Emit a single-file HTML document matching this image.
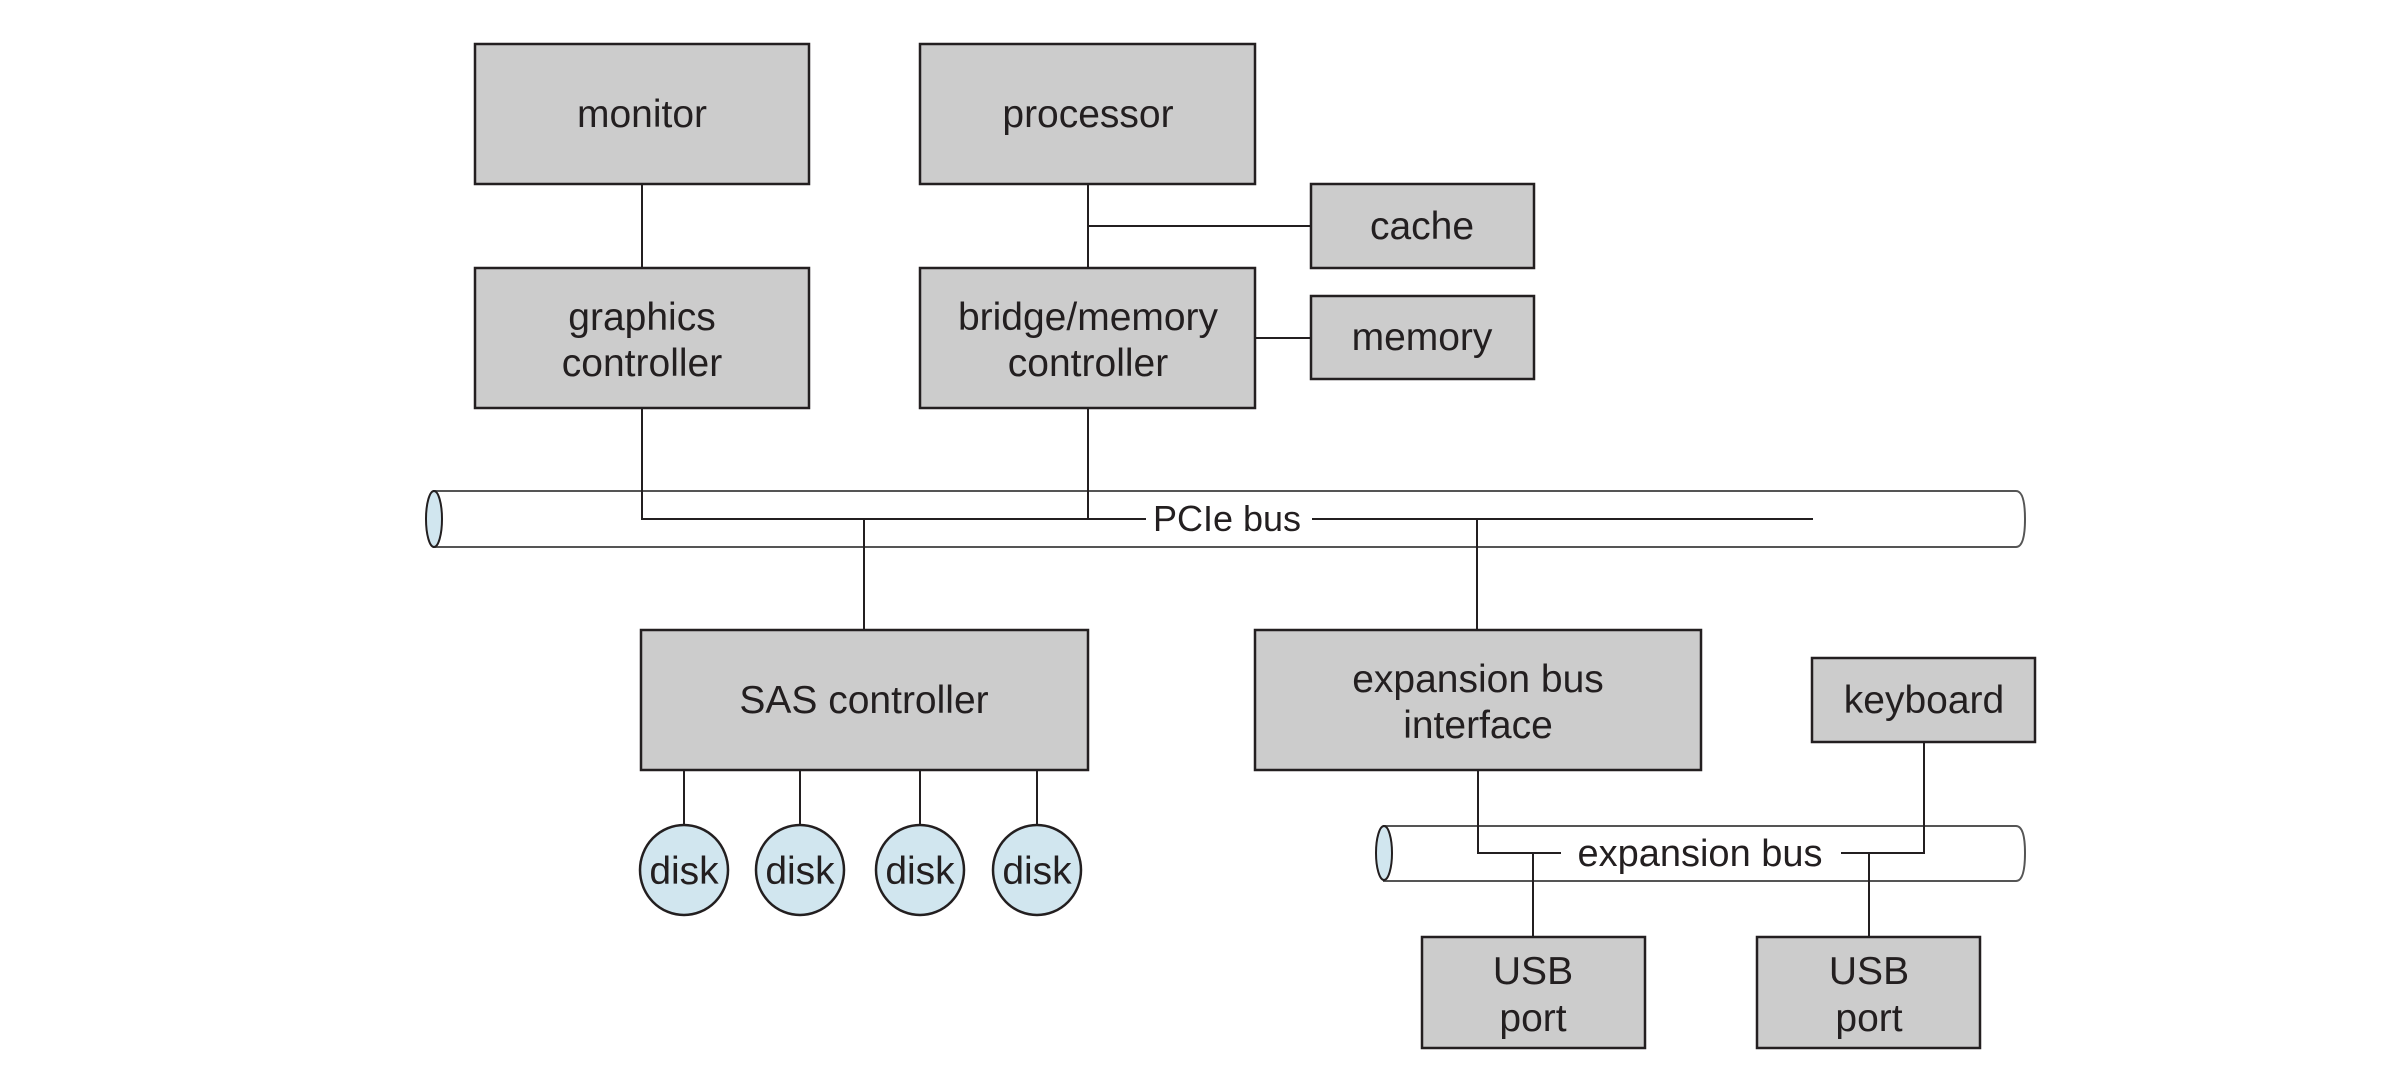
<!DOCTYPE html>
<html><head><meta charset="utf-8"><style>
html,body{margin:0;padding:0;background:#fff;}
svg{display:block;}
text{font-family:"Liberation Sans",sans-serif;font-size:39px;fill:#231f20;text-anchor:middle;}
.b{fill:#cccccc;stroke:#231f20;stroke-width:2.5;}
.l{stroke:#231f20;stroke-width:2;fill:none;}
.t{fill:#fff;stroke:#555;stroke-width:2;}
.d{fill:#d1e6ef;stroke:#231f20;stroke-width:2.5;}
</style></head><body>
<svg width="2388" height="1089" viewBox="0 0 2388 1089" xmlns="http://www.w3.org/2000/svg">
<path class="t" d="M434 491 H2016 Q2025 491 2025 519 Q2025 547 2016 547 H434 Z"/>
<ellipse class="d" cx="434" cy="519" rx="8" ry="28" style="stroke-width:2"/>
<path class="t" d="M1384 826 H2016 Q2025 826 2025 853 Q2025 881 2016 881 H1384 Z"/>
<ellipse class="d" cx="1384" cy="853" rx="8" ry="27" style="stroke-width:2"/>

<line class="l" x1="642" y1="184" x2="642" y2="268"/>
<line class="l" x1="1088" y1="184" x2="1088" y2="268"/>
<line class="l" x1="1088" y1="226" x2="1311" y2="226"/>
<line class="l" x1="1255" y1="338" x2="1311" y2="338"/>
<polyline class="l" points="642,408 642,519 1146,519"/>
<line class="l" x1="1088" y1="408" x2="1088" y2="519"/>
<line class="l" x1="1312" y1="519" x2="1813" y2="519"/>
<line class="l" x1="864" y1="519" x2="864" y2="630"/>
<line class="l" x1="1477" y1="519" x2="1477" y2="630"/>
<line class="l" x1="684" y1="770" x2="684" y2="826"/>
<line class="l" x1="800" y1="770" x2="800" y2="826"/>
<line class="l" x1="920" y1="770" x2="920" y2="826"/>
<line class="l" x1="1037" y1="770" x2="1037" y2="826"/>
<polyline class="l" points="1478,770 1478,853 1561,853"/>
<polyline class="l" points="1841,853 1924,853 1924,742"/>
<line class="l" x1="1533" y1="853" x2="1533" y2="937"/>
<line class="l" x1="1869" y1="853" x2="1869" y2="937"/>

<rect class="b" x="475" y="44" width="334" height="140"/>
<text x="642" y="127">monitor</text>
<rect class="b" x="920" y="44" width="335" height="140"/>
<text x="1088" y="127">processor</text>
<rect class="b" x="1311" y="184" width="223" height="84"/>
<text x="1422" y="239">cache</text>
<rect class="b" x="475" y="268" width="334" height="140"/>
<text x="642" y="330">graphics</text>
<text x="642" y="376">controller</text>
<rect class="b" x="920" y="268" width="335" height="140"/>
<text x="1088" y="330">bridge/memory</text>
<text x="1088" y="376">controller</text>
<rect class="b" x="1311" y="296" width="223" height="83"/>
<text x="1422" y="350">memory</text>

<text x="1227" y="531" style="font-size:36px">PCIe bus</text>

<rect class="b" x="641" y="630" width="447" height="140"/>
<text x="864" y="713">SAS controller</text>
<rect class="b" x="1255" y="630" width="446" height="140"/>
<text x="1478" y="692">expansion bus</text>
<text x="1478" y="738">interface</text>
<rect class="b" x="1812" y="658" width="223" height="84"/>
<text x="1924" y="713">keyboard</text>

<ellipse class="d" cx="684" cy="870" rx="44" ry="45"/>
<text x="684" y="884">disk</text>
<ellipse class="d" cx="800" cy="870" rx="44" ry="45"/>
<text x="800" y="884">disk</text>
<ellipse class="d" cx="920" cy="870" rx="44" ry="45"/>
<text x="920" y="884">disk</text>
<ellipse class="d" cx="1037" cy="870" rx="44" ry="45"/>
<text x="1037" y="884">disk</text>

<text x="1700" y="866" style="font-size:38px">expansion bus</text>

<rect class="b" x="1422" y="937" width="223" height="111"/>
<text x="1533" y="984">USB</text>
<text x="1533" y="1031">port</text>
<rect class="b" x="1757" y="937" width="223" height="111"/>
<text x="1869" y="984">USB</text>
<text x="1869" y="1031">port</text>
</svg>
</body></html>
